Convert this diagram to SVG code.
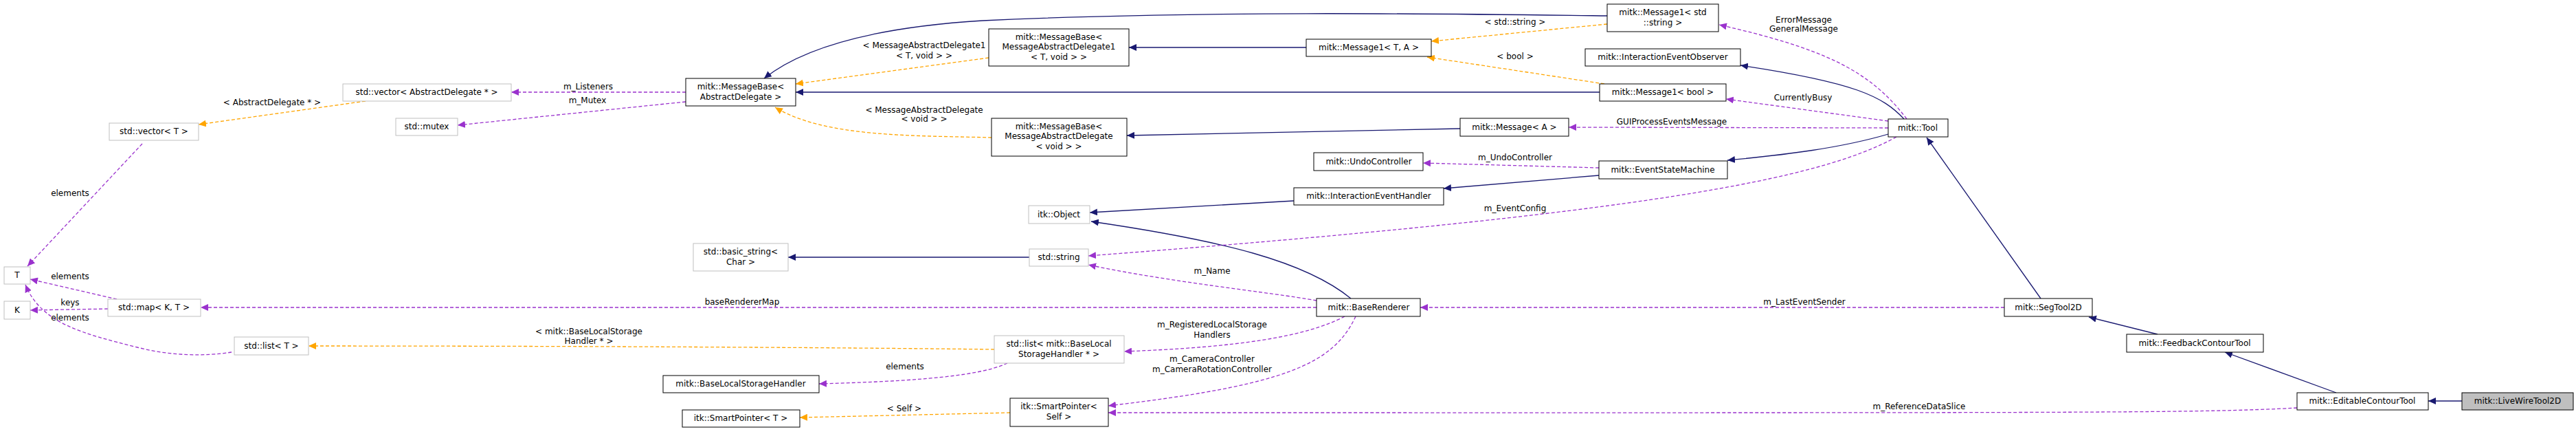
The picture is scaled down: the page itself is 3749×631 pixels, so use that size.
<svg xmlns="http://www.w3.org/2000/svg" width="3749" height="631" viewBox="0 0 3749 631">
<style>
text{font-family:"DejaVu Sans","Liberation Sans",sans-serif;font-size:12px;fill:#000;text-anchor:middle}
.n rect{fill:#fff;stroke:#000;stroke-width:1}
.g rect{fill:#fff;stroke:#bfbfbf;stroke-width:1}
.inh{fill:none;stroke:#191970;stroke-width:1.3;marker-end:url(#ai)}
.tpl{fill:none;stroke:#ffa500;stroke-width:1.3;stroke-dasharray:5,3;marker-end:url(#at)}
.use{fill:none;stroke:#9a32cd;stroke-width:1.3;stroke-dasharray:5,3;marker-end:url(#au)}
</style>
<defs>
<marker id="ai" markerUnits="userSpaceOnUse" markerWidth="12" markerHeight="10" refX="11" refY="5" orient="auto"><path d="M0,0 L11,5 L0,10 z" fill="#191970"/></marker>
<marker id="at" markerUnits="userSpaceOnUse" markerWidth="12" markerHeight="10" refX="11" refY="5" orient="auto"><path d="M0,0 L11,5 L0,10 z" fill="#ffa500"/></marker>
<marker id="au" markerUnits="userSpaceOnUse" markerWidth="12" markerHeight="10" refX="11" refY="5" orient="auto"><path d="M0,0 L11,5 L0,10 z" fill="#9a32cd"/></marker>
</defs>
<g id="edges">
<path class="inh" d="M2339,23 C2100,20 1750,15 1430,30 C1300,38 1180,60 1112,114"/>
<path class="inh" d="M1901,69 L1643,69"/>
<path class="inh" d="M2328,134 L1158,134"/>
<path class="inh" d="M2125,187 L1640,197"/>
<path class="inh" d="M1883,292 L1586,309"/>
<path class="inh" d="M2327,255 L2101,274"/>
<path class="inh" d="M1966,434 C1900,380 1780,350 1588,322"/>
<path class="inh" d="M1498,374 L1147,374"/>
<path class="inh" d="M2771,173 C2740,140 2700,120 2533,95"/>
<path class="inh" d="M2748,195 C2680,215 2600,225 2514,233"/>
<path class="inh" d="M2970,434 L2804,200"/>
<path class="inh" d="M3140,486 L3040,461"/>
<path class="inh" d="M3400,571 L3238,512"/>
<path class="inh" d="M3583,583 L3534,583"/>
<path class="tpl" d="M532,147 L289,181"/>
<path class="tpl" d="M1447,508 C1200,505 800,503 449,503"/>
<path class="tpl" d="M1470,600 L1164,607"/>
<path class="tpl" d="M1439,84 L1158,122"/>
<path class="tpl" d="M1443,200 C1330,197 1200,200 1128,156"/>
<path class="tpl" d="M2339,35 L2083,60"/>
<path class="tpl" d="M2335,122 L2077,83"/>
<path class="use" d="M998,134 L744,134"/>
<path class="use" d="M998,148 L666,182"/>
<path class="use" d="M207,209 L40,387"/>
<path class="use" d="M170,435 L44,406"/>
<path class="use" d="M157,449 L44,451"/>
<path class="use" d="M337,512 C300,518 250,518 200,505 C120,485 60,470 37,414"/>
<path class="use" d="M1916,447 L292,447"/>
<path class="use" d="M1466,528 C1420,550 1300,555 1192,558"/>
<path class="use" d="M1957,460 C1900,490 1800,505 1636,511"/>
<path class="use" d="M1973,460 C1940,530 1870,560 1613,590"/>
<path class="use" d="M3343,593 C3200,601 3000,600 1613,600"/>
<path class="use" d="M1916,437 C1850,425 1700,410 1584,385"/>
<path class="use" d="M2917,447 L2067,447"/>
<path class="use" d="M2760,199 C2650,260 2400,310 1584,372"/>
<path class="use" d="M2748,186 L2283,185"/>
<path class="use" d="M2748,176 L2512,144"/>
<path class="use" d="M2775,173 C2720,100 2650,70 2502,36"/>
<path class="use" d="M2327,244 L2071,237"/>
</g>
<g id="edge-labels">
<text x="396" y="153">&lt; AbstractDelegate * &gt;</text>
<text x="856" y="130">m_Listeners</text>
<text x="855" y="150">m_Mutex</text>
<text x="102" y="285">elements</text>
<text x="102" y="406">elements</text>
<text x="102" y="444">keys</text>
<text x="102" y="466">elements</text>
<text x="1080" y="443">baseRendererMap</text>
<text x="857" y="486">&lt; mitk::BaseLocalStorage</text>
<text x="857" y="500">Handler * &gt;</text>
<text x="1345" y="70">&lt; MessageAbstractDelegate1</text>
<text x="1345" y="85">&lt; T, void &gt; &gt;</text>
<text x="2205" y="36">&lt; std::string &gt;</text>
<text x="2205" y="86">&lt; bool &gt;</text>
<text x="1345" y="164">&lt; MessageAbstractDelegate</text>
<text x="1345" y="177">&lt; void &gt; &gt;</text>
<text x="2433" y="181">GUIProcessEventsMessage</text>
<text x="2205" y="233">m_UndoController</text>
<text x="2205" y="307">m_EventConfig</text>
<text x="1764" y="398">m_Name</text>
<text x="1764" y="476">m_RegisteredLocalStorage</text>
<text x="1764" y="491">Handlers</text>
<text x="1317" y="537">elements</text>
<text x="1764" y="526">m_CameraController</text>
<text x="1764" y="541">m_CameraRotationController</text>
<text x="1316" y="598">&lt; Self &gt;</text>
<text x="2625" y="33">ErrorMessage</text>
<text x="2625" y="46">GeneralMessage</text>
<text x="2624" y="146">CurrentlyBusy</text>
<text x="2626" y="443">m_LastEventSender</text>
<text x="2793" y="595">m_ReferenceDataSlice</text>
</g>
<g id="n_mbad" class="n"><rect x="998" y="114" width="160" height="40"/><text x="1078" y="130">mitk::MessageBase&lt;</text><text x="1078" y="145">AbstractDelegate &gt;</text></g>
<g id="n_vecad" class="g"><rect x="499" y="122" width="245" height="25"/><text x="621" y="138">std::vector&lt; AbstractDelegate * &gt;</text></g>
<g id="n_mutex" class="g"><rect x="576" y="172" width="90" height="25"/><text x="621" y="188">std::mutex</text></g>
<g id="n_vect" class="g"><rect x="159" y="179" width="130" height="25"/><text x="224" y="195">std::vector&lt; T &gt;</text></g>
<g id="n_T" class="g"><rect x="6" y="388" width="38" height="25"/><text x="25" y="404">T</text></g>
<g id="n_K" class="g"><rect x="6" y="438" width="38" height="26"/><text x="25" y="455">K</text></g>
<g id="n_map" class="g"><rect x="157" y="435" width="135" height="25"/><text x="224" y="451">std::map&lt; K, T &gt;</text></g>
<g id="n_listt" class="g"><rect x="341" y="490" width="108" height="26"/><text x="395" y="507">std::list&lt; T &gt;</text></g>
<g id="n_bstr" class="g"><rect x="1009" y="354" width="138" height="40"/><text x="1078" y="370">std::basic_string&lt;</text><text x="1078" y="385">Char &gt;</text></g>
<g id="n_blsh" class="n"><rect x="965" y="546" width="227" height="25"/><text x="1078" y="562">mitk::BaseLocalStorageHandler</text></g>
<g id="n_spt" class="n"><rect x="993" y="596" width="171" height="25"/><text x="1078" y="612">itk::SmartPointer&lt; T &gt;</text></g>
<g id="n_m1str" class="n"><rect x="2339" y="6" width="162" height="40"/><text x="2420" y="22">mitk::Message1&lt; std</text><text x="2420" y="37">::string &gt;</text></g>
<g id="n_mbmad1" class="n"><rect x="1439" y="42" width="204" height="54"/><text x="1541" y="58">mitk::MessageBase&lt;</text><text x="1541" y="72">MessageAbstractDelegate1</text><text x="1541" y="87">&lt; T, void &gt; &gt;</text></g>
<g id="n_m1ta" class="n"><rect x="1901" y="57" width="182" height="25"/><text x="1992" y="73">mitk::Message1&lt; T, A &gt;</text></g>
<g id="n_ieo" class="n"><rect x="2307" y="71" width="226" height="25"/><text x="2420" y="87">mitk::InteractionEventObserver</text></g>
<g id="n_m1bool" class="n"><rect x="2328" y="122" width="184" height="25"/><text x="2420" y="138">mitk::Message1&lt; bool &gt;</text></g>
<g id="n_mbmad" class="n"><rect x="1443" y="172" width="197" height="55"/><text x="1541" y="188">mitk::MessageBase&lt;</text><text x="1541" y="202">MessageAbstractDelegate</text><text x="1541" y="217">&lt; void &gt; &gt;</text></g>
<g id="n_ma" class="n"><rect x="2125" y="172" width="158" height="26"/><text x="2204" y="189">mitk::Message&lt; A &gt;</text></g>
<g id="n_undo" class="n"><rect x="1912" y="222" width="159" height="26"/><text x="1992" y="239">mitk::UndoController</text></g>
<g id="n_esm" class="n"><rect x="2327" y="234" width="187" height="26"/><text x="2420" y="251">mitk::EventStateMachine</text></g>
<g id="n_ieh" class="n"><rect x="1883" y="273" width="218" height="25"/><text x="1992" y="289">mitk::InteractionEventHandler</text></g>
<g id="n_itkobj" class="g"><rect x="1497" y="299" width="89" height="26"/><text x="1541" y="316">itk::Object</text></g>
<g id="n_str" class="g"><rect x="1498" y="362" width="86" height="25"/><text x="1541" y="378">std::string</text></g>
<g id="n_br" class="n"><rect x="1916" y="434" width="151" height="26"/><text x="1992" y="451">mitk::BaseRenderer</text></g>
<g id="n_listblsh" class="g"><rect x="1447" y="488" width="189" height="40"/><text x="1541" y="504">std::list&lt; mitk::BaseLocal</text><text x="1541" y="519">StorageHandler * &gt;</text></g>
<g id="n_spself" class="n"><rect x="1470" y="579" width="143" height="41"/><text x="1541" y="595">itk::SmartPointer&lt;</text><text x="1541" y="610">Self &gt;</text></g>
<g id="n_tool" class="n"><rect x="2748" y="173" width="87" height="26"/><text x="2791" y="190">mitk::Tool</text></g>
<g id="n_seg" class="n"><rect x="2917" y="434" width="128" height="26"/><text x="2981" y="451">mitk::SegTool2D</text></g>
<g id="n_fct" class="n"><rect x="3095" y="486" width="199" height="26"/><text x="3194" y="503">mitk::FeedbackContourTool</text></g>
<g id="n_ect" class="n"><rect x="3343" y="571" width="191" height="25"/><text x="3438" y="587">mitk::EditableContourTool</text></g>
<g id="n_lw" class="n"><rect x="3583" y="571" width="162" height="25" style="fill:#bfbfbf"/><text x="3664" y="587">mitk::LiveWireTool2D</text></g>
</svg>
